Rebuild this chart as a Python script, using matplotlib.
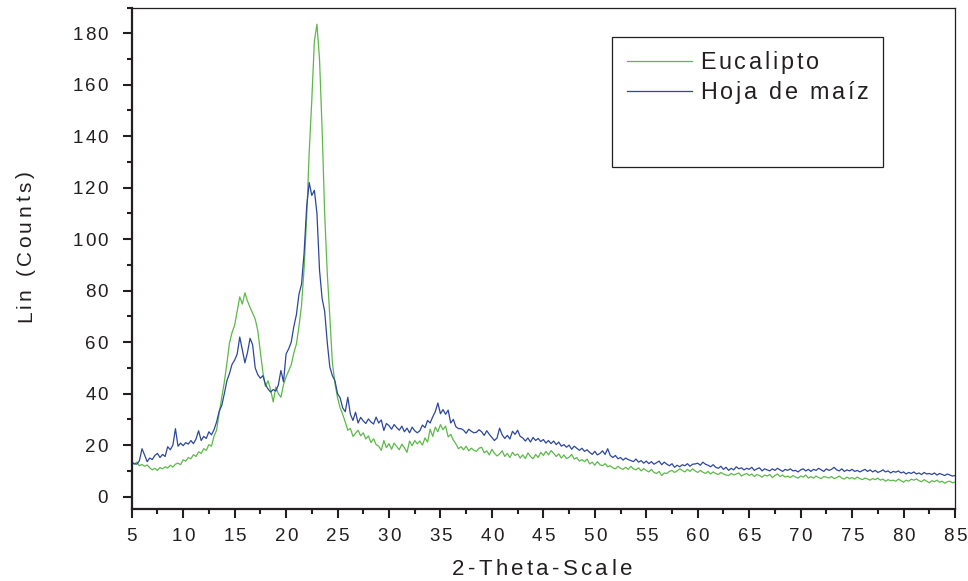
import numpy as np
import matplotlib
matplotlib.use("Agg")
import matplotlib.pyplot as plt
from matplotlib.font_manager import FontProperties
from matplotlib.transforms import IdentityTransform
from matplotlib.patches import Rectangle
from matplotlib.lines import Line2D
from matplotlib.ticker import MultipleLocator, NullFormatter

# ---------------- data ----------------
two_theta_start = 5.0
two_theta_step = 0.25

eucalipto = [
    13.2, 12.6, 13.4, 12.0, 12.5, 11.8, 12.3, 11.2,
    10.4, 11.0, 10.2, 11.3, 10.8, 11.6, 11.1, 12.2,
    11.5, 12.6, 13.0, 12.4, 14.3, 13.8, 15.2, 14.7,
    16.3, 15.6, 17.4, 16.8, 18.6, 18.0, 20.2, 19.6,
    23.5, 25.8, 32.5, 38.6, 44.5, 51.8, 59.6, 63.8,
    66.5, 72.0, 77.6, 74.8, 79.2, 76.0, 73.5, 71.2,
    69.0, 64.5, 56.2, 48.3, 42.8, 45.0, 41.5, 36.8,
    42.6, 40.0, 38.6, 43.5, 46.5, 48.8, 51.2, 55.8,
    59.2, 66.0, 74.2, 88.5, 108.5, 134.0, 154.0, 177.0,
    183.5, 170.0, 143.0, 110.0, 87.0, 70.0, 52.0, 44.0,
    38.5, 34.5, 32.0, 29.0, 25.8, 26.5, 23.4, 24.6,
    25.8, 23.6, 24.8, 22.4, 23.6, 21.0, 22.5, 20.2,
    19.6, 18.0, 21.8, 19.0, 20.6, 18.4, 20.8, 19.5,
    18.2, 20.4, 19.0, 17.2, 21.6, 19.8, 21.8, 20.5,
    21.6, 20.0, 22.8, 21.2, 26.2, 23.4, 27.0, 25.2,
    28.0, 26.0, 27.4, 23.2, 24.2, 22.0, 20.5, 18.6,
    19.4, 18.2, 19.6, 17.8, 18.8, 18.0, 17.6, 18.8,
    19.2, 17.0, 17.8, 16.2, 18.4, 16.8, 15.8, 16.6,
    17.8, 15.6, 16.8, 15.2, 17.2, 16.0, 16.6, 15.0,
    16.2, 14.8, 17.0, 15.6, 14.7, 16.4, 15.2, 17.2,
    16.0, 17.6, 16.2, 17.9, 16.8, 15.6, 16.6, 15.0,
    16.2, 14.8, 15.3, 16.4, 14.6, 15.2, 13.8, 14.4,
    13.6, 14.6, 12.7, 13.4, 12.2, 13.6, 12.4, 12.0,
    12.8, 11.6, 12.0, 11.2, 10.8, 11.8, 11.0, 10.6,
    11.4, 10.6, 11.8, 10.8, 10.4, 11.2, 10.0, 10.9,
    10.2, 9.6, 10.6, 9.4, 9.0, 9.8, 8.2, 9.2,
    9.0, 9.8, 10.2, 9.4, 10.0, 10.8, 10.2, 9.6,
    10.6, 9.8, 10.8, 10.0, 9.4, 10.2, 9.5, 9.0,
    9.8, 8.8, 9.6, 9.0, 8.6, 9.4, 8.8, 8.4,
    8.2, 9.0, 8.4, 8.8, 9.2, 8.0, 8.6, 9.0,
    8.2, 8.8, 7.8, 8.6, 8.2, 7.6, 8.4, 8.0,
    8.6, 7.4, 8.2, 8.8, 7.8, 8.4, 7.6, 8.0,
    7.4, 8.2, 7.6, 7.2, 8.0, 7.6, 8.4, 7.2,
    7.8, 7.2, 8.0, 7.4, 7.0, 7.8, 7.6, 7.2,
    7.8, 7.0, 7.4, 8.0, 7.2, 6.8, 7.6, 7.0,
    7.4, 6.8, 7.6, 7.0, 6.6, 7.2, 6.9, 6.4,
    7.0, 6.6, 7.2, 6.4, 6.8, 6.0, 6.6, 6.2,
    6.4, 6.0, 6.8, 6.2, 5.6, 6.4, 6.0, 6.8,
    6.4, 6.9, 6.2, 5.8, 6.6, 6.0, 5.4, 6.2,
    5.8, 6.4, 5.6, 6.0, 5.2, 5.8, 6.0, 5.4,
    5.6,
]

hoja_maiz = [
    13.4, 12.8, 12.6, 14.0, 18.6, 16.2, 13.6, 15.0,
    14.4, 16.0, 16.8, 15.2, 16.4, 15.6, 19.4, 18.2,
    20.0, 26.4, 19.6, 20.8, 19.8, 21.0, 20.4, 21.8,
    20.6, 22.4, 25.6, 21.8, 23.4, 22.6, 25.2, 24.0,
    26.0, 29.0, 33.2, 35.4, 40.0, 45.0, 47.8, 51.4,
    53.0, 55.4, 62.0, 57.0, 52.0, 56.0, 61.5, 59.0,
    50.0, 47.4, 46.0, 47.0, 43.5, 41.8, 40.6, 41.6,
    41.0, 43.4, 49.0, 44.6, 55.4, 57.4, 60.0, 66.0,
    70.6, 78.5, 82.5, 94.5, 112.5, 122.0, 117.0, 119.0,
    110.0, 88.0, 77.0, 72.0, 60.0, 50.4, 47.0, 45.0,
    40.0, 38.4, 34.5, 33.0, 38.6, 32.0, 29.6, 32.8,
    28.6, 30.8, 29.4, 28.4, 30.2, 29.0, 28.2, 30.9,
    28.6, 29.8, 25.7, 28.4, 27.6, 26.2, 28.0, 26.8,
    25.8, 27.4, 25.2, 26.6, 24.8, 27.0, 25.6, 24.8,
    25.6, 27.8, 26.8, 29.6, 28.6, 31.0, 33.0, 36.4,
    32.2, 33.8, 32.0, 33.6, 28.6, 30.0, 27.2, 26.4,
    26.4, 25.8, 24.6, 26.2, 25.4, 24.8, 25.0, 26.0,
    25.2, 23.8, 25.6, 24.2, 23.0, 21.8, 22.8, 26.6,
    24.0, 22.6, 23.8, 22.4, 25.4, 24.2, 25.8, 23.4,
    22.8, 21.6, 22.8, 21.2, 23.0, 21.8, 22.6, 21.4,
    22.2, 20.8, 21.8, 20.6, 21.6, 20.2, 21.2, 19.6,
    20.2, 19.2, 20.0, 18.4, 19.6, 18.8, 18.0, 18.8,
    17.6, 18.2, 17.2, 16.4, 17.6, 16.2, 16.8, 17.8,
    16.4, 18.6, 16.0, 15.2, 16.0, 14.7, 15.2, 14.2,
    15.0, 14.4, 14.0, 13.6, 14.6, 13.4, 14.0, 13.0,
    13.8, 12.8, 13.6, 12.6, 13.2, 13.8, 12.4, 13.4,
    12.6, 12.0, 12.8, 11.4, 12.2, 11.6, 12.4, 12.0,
    12.8, 11.8, 12.6, 12.7, 13.0, 12.2, 13.4, 12.6,
    12.2, 11.6, 12.4, 11.4, 11.0, 11.8, 10.6, 11.4,
    10.2, 11.0, 10.4, 11.6, 10.8, 11.2, 10.4, 11.0,
    10.6, 11.4, 10.2, 10.8, 11.2, 10.0, 10.8, 10.4,
    10.0, 10.8, 10.2, 11.0, 10.4, 9.8, 10.6, 10.2,
    10.8, 10.0, 10.2, 9.6, 10.4, 10.8, 10.0, 10.6,
    9.8, 10.6, 10.2, 11.0, 10.4, 9.8, 10.8, 10.2,
    10.6, 11.4, 10.4, 10.0, 10.8, 9.8, 10.4, 10.0,
    10.6, 9.8, 10.2, 9.6, 10.1, 10.6, 9.8, 10.4,
    9.6, 10.2, 9.4, 9.8, 10.4, 9.6, 10.0, 9.2,
    9.8, 9.5, 10.0, 9.2, 9.6, 8.8, 9.4, 9.0,
    9.6, 8.8, 9.2, 8.6, 9.4, 8.8, 9.0, 8.6,
    9.2, 8.4, 9.0, 8.6, 8.2, 8.8, 8.4, 8.0,
    8.2,
]

series_labels = ["Eucalipto", "Hoja de maíz"]
x_ticks = [5, 10, 15, 20, 25, 30, 35, 40, 45, 50, 55, 60, 65, 70, 75, 80, 85]
y_ticks = [0, 20, 40, 60, 80, 100, 120, 140, 160, 180]
x_label = "2-Theta-Scale"
y_label = "Lin (Counts)"

two_theta = two_theta_start + two_theta_step * np.arange(len(eucalipto))

# ---------------- style ----------------
W, H = 968, 581
GREEN = "#5cb949"
BLUE = "#2c479c"
DARK = "#231f20"
FONT = "Liberation Sans"

plt.rcParams["font.family"] = [FONT, "DejaVu Sans"]

fig = plt.figure(figsize=(W / 100, H / 100), dpi=100)
ax_l, ax_r, ax_t, ax_b = 131.7, 955.0, 7.5, 509.0
ax = fig.add_axes([ax_l / W, 1 - ax_b / H, (ax_r - ax_l) / W, (ax_b - ax_t) / H])

ax.plot(two_theta, eucalipto, color=GREEN, lw=0.9, solid_joinstyle="round")
ax.plot(two_theta, hoja_maiz, color=BLUE, lw=0.9, solid_joinstyle="round")

ax.set_xlim(5, 85)
ax.set_ylim(-4.8, 190)
ax.set_xticks(x_ticks)
ax.set_yticks(y_ticks)
ax.xaxis.set_minor_locator(MultipleLocator(2.5))
ax.yaxis.set_minor_locator(MultipleLocator(10))
ax.xaxis.set_major_formatter(NullFormatter())
ax.yaxis.set_major_formatter(NullFormatter())
ax.tick_params(which="both", direction="out", width=1.5, color=DARK,
               top=False, right=False)
ax.tick_params(which="major", length=6.5)
ax.tick_params(which="minor", length=3.5)
for side in ("left", "bottom"):
    ax.spines[side].set_linewidth(1.6)
    ax.spines[side].set_color(DARK)
for side in ("top", "right"):
    ax.spines[side].set_linewidth(0.9)
    ax.spines[side].set_color(DARK)

renderer = fig.canvas.get_renderer()
ident = IdentityTransform()


def spaced_text(s, x, y, size, width=None, spacing=0.0, rotation=0,
                anchor="left", color=DARK):
    """Draw letter-spaced text; x,y in image pixels (y downward) at baseline."""
    prop = FontProperties(family=FONT, size=size)
    w0 = renderer.get_text_width_height_descent("||", prop, ismath=False)[0]
    adv = [renderer.get_text_width_height_descent("|" + c + "|", prop,
                                                  ismath=False)[0] - w0
           for c in s]
    if width is not None and len(s) > 1:
        spacing = (width - sum(adv)) / (len(s) - 1)
    total = sum(adv) + spacing * (len(s) - 1)
    if anchor == "left":
        pos = 0.0
    elif anchor == "right":
        pos = -total
    else:
        pos = -total / 2
    for c, a in zip(s, adv):
        if rotation == 0:
            fig.text(x + pos, H - y, c, transform=ident, ha="left",
                     va="baseline", fontproperties=prop, color=color)
        else:
            fig.text(x, H - y + pos, c, transform=ident, ha="left",
                     va="baseline", rotation=90, rotation_mode="anchor",
                     fontproperties=prop, color=color)
        pos += a + spacing


# tick labels (letter-spaced, positioned from the axes' own scales)
to_disp = ax.transData
for v in x_ticks:
    px = to_disp.transform((v, 0))[0]
    spaced_text(str(v), px, 541, 13.5, spacing=2.0, anchor="center")
for v in y_ticks:
    py = H - to_disp.transform((5, v))[1]
    spaced_text(str(v), 108, py + 6.7, 13.5, spacing=2.0, anchor="right")

# axis labels
spaced_text(x_label, 542, 575, 16, width=180, anchor="center")
spaced_text(y_label, 31, 247, 15, width=151, rotation=90, anchor="center")

# legend box
fig.patches.append(Rectangle((611.7, H - 166.7), 271.0, 130.0, transform=ident,
                             fill=False, lw=0.9, edgecolor=DARK))
for i, (lab, col) in enumerate(zip(series_labels, [GREEN, BLUE])):
    yl = 61 + 29.5 * i
    fig.lines.append(Line2D([627, 692], [H - yl, H - yl], transform=ident,
                            color=col, lw=0.9))
    spaced_text(lab, 700, yl + 8.3, 16.8, spacing=2.8)

fig.savefig("out.png", dpi=100)
